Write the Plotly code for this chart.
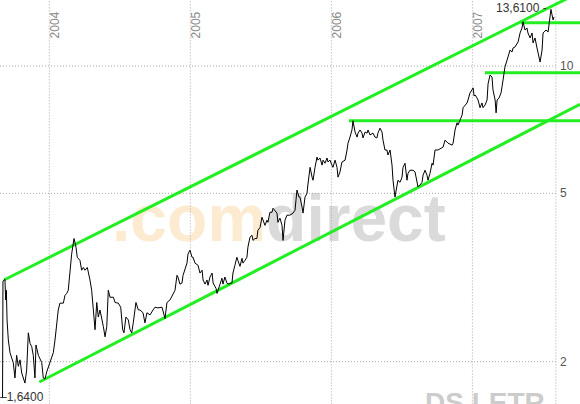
import numpy as np
import plotly.graph_objects as go

# ---------------- data (decimal years, price) ----------------
t = [
    2003.668, 2003.671, 2003.685, 2003.690, 2003.695, 2003.700, 2003.709, 2003.721, 2003.744, 2003.756,
    2003.768, 2003.780, 2003.792, 2003.804, 2003.827, 2003.839, 2003.851, 2003.863, 2003.875, 2003.886,
    2003.898, 2003.905, 2003.922, 2003.934, 2003.946, 2003.957, 2003.969, 2003.981, 2004.005, 2004.028,
    2004.040, 2004.063, 2004.075, 2004.099, 2004.111, 2004.123, 2004.134, 2004.146, 2004.158, 2004.175,
    2004.189, 2004.198, 2004.217, 2004.229, 2004.241, 2004.253, 2004.269, 2004.288, 2004.300, 2004.312,
    2004.324, 2004.336, 2004.347, 2004.359, 2004.371, 2004.383, 2004.395, 2004.407, 2004.418, 2004.430,
    2004.454, 2004.466, 2004.489, 2004.506, 2004.520, 2004.529, 2004.543, 2004.560, 2004.572, 2004.584,
    2004.595, 2004.614, 2004.631, 2004.643, 2004.664, 2004.678, 2004.692, 2004.714, 2004.735, 2004.749,
    2004.770, 2004.799, 2004.820, 2004.834, 2004.856, 2004.877, 2004.891, 2004.905, 2004.912, 2004.926,
    2004.941, 2004.948, 2004.976, 2004.983, 2004.997, 2005.012, 2005.019, 2005.033, 2005.054, 2005.068,
    2005.083, 2005.090, 2005.104, 2005.118, 2005.125, 2005.139, 2005.154, 2005.161, 2005.182, 2005.189,
    2005.210, 2005.224, 2005.231, 2005.245, 2005.259, 2005.267, 2005.295, 2005.302, 2005.316, 2005.330,
    2005.337, 2005.352, 2005.366, 2005.373, 2005.387, 2005.401, 2005.408, 2005.423, 2005.437, 2005.444,
    2005.458, 2005.472, 2005.479, 2005.494, 2005.508, 2005.515, 2005.529, 2005.543, 2005.550, 2005.564,
    2005.579, 2005.586, 2005.600, 2005.614, 2005.621, 2005.635, 2005.650, 2005.657, 2005.671, 2005.685,
    2005.706, 2005.728, 2005.742, 2005.749, 2005.756, 2005.770, 2005.777, 2005.792, 2005.799, 2005.813,
    2005.827, 2005.834, 2005.849, 2005.863, 2005.870, 2005.884, 2005.898, 2005.905, 2005.919, 2005.934,
    2005.941, 2005.955, 2005.969, 2005.976, 2005.990, 2006.004, 2006.011, 2006.026, 2006.040, 2006.047,
    2006.061, 2006.075, 2006.097, 2006.111, 2006.118, 2006.132, 2006.146, 2006.153, 2006.168, 2006.182,
    2006.189, 2006.203, 2006.217, 2006.224, 2006.239, 2006.253, 2006.260, 2006.274, 2006.288, 2006.295,
    2006.309, 2006.323, 2006.330, 2006.345, 2006.359, 2006.366, 2006.380, 2006.394, 2006.401, 2006.416,
    2006.430, 2006.437, 2006.451, 2006.465, 2006.472, 2006.487, 2006.501, 2006.508, 2006.522, 2006.536,
    2006.543, 2006.557, 2006.572, 2006.579, 2006.593, 2006.607, 2006.614, 2006.628, 2006.643, 2006.650,
    2006.664, 2006.678, 2006.685, 2006.699, 2006.714, 2006.721, 2006.735, 2006.756, 2006.785, 2006.792,
    2006.806, 2006.827, 2006.856, 2006.863, 2006.877, 2006.891, 2006.898, 2006.912, 2006.927, 2006.934,
    2006.948, 2006.962, 2006.969, 2006.983, 2006.997, 2007.005, 2007.012, 2007.019, 2007.033, 2007.040,
    2007.054, 2007.068, 2007.075, 2007.090, 2007.104, 2007.111, 2007.125, 2007.139, 2007.146, 2007.161,
    2007.168, 2007.175, 2007.189, 2007.203, 2007.210, 2007.217, 2007.231, 2007.246, 2007.253, 2007.267,
    2007.281, 2007.288, 2007.302, 2007.317, 2007.324, 2007.338, 2007.352, 2007.359, 2007.373, 2007.387,
    2007.394, 2007.409, 2007.423, 2007.430, 2007.444, 2007.458, 2007.465, 2007.480, 2007.494, 2007.501,
    2007.508, 2007.522, 2007.537, 2007.544, 2007.550, 2007.557, 2007.572, 2007.579,
]
price = [
    1.64, 3.10, 3.13, 2.80, 2.95, 2.51, 2.25, 2.10, 1.99, 1.83,
    2.07, 1.95, 2.02, 1.88, 1.78, 1.91, 2.34, 2.21, 2.17, 2.07,
    1.83, 2.19, 2.07, 2.02, 1.99, 1.83, 1.82, 1.89, 1.99, 2.10,
    2.25, 2.65, 2.75, 2.75, 2.87, 2.90, 2.95, 3.29, 3.59, 3.91,
    3.73, 3.53, 3.47, 3.29, 3.34, 3.29, 3.34, 3.12, 2.95, 2.65,
    2.38, 2.76, 2.55, 2.65, 2.55, 2.42, 2.29, 2.42, 2.95, 2.84,
    2.84, 2.76, 2.75, 2.69, 2.38, 2.34, 2.55, 2.51, 2.38, 2.34,
    2.47, 2.76, 2.65, 2.65, 2.61, 2.47, 2.61, 2.58, 2.65, 2.69,
    2.68, 2.69, 2.53, 2.76, 2.80, 2.90, 2.95, 3.20, 3.17, 3.05,
    3.07, 3.20, 3.42, 3.59, 3.67, 3.53, 3.53, 3.42, 3.38, 3.24,
    3.29, 3.12, 3.05, 3.12, 3.03, 3.17, 3.24, 3.07, 2.98, 2.90,
    3.05, 3.15, 3.05, 3.17, 3.07, 3.05, 3.07, 3.24, 3.38, 3.53,
    3.47, 3.36, 3.51, 3.42, 3.47, 3.53, 3.73, 3.94, 3.98, 3.87,
    3.91, 3.91, 4.09, 4.15, 4.39, 4.32, 4.20, 4.32, 4.27, 4.51,
    4.51, 4.61, 4.56, 4.49, 4.27, 4.37, 4.20, 3.87, 4.32, 4.44,
    4.44, 4.49, 4.56, 4.90, 5.09, 4.90, 4.90, 4.64, 4.49, 4.90,
    5.00, 5.26, 5.76, 5.46, 5.37, 5.76, 6.09, 5.99, 6.06, 5.83,
    5.99, 5.89, 6.06, 5.93, 5.99, 5.83, 5.76, 5.99, 5.76, 5.46,
    5.62, 5.93, 5.99, 6.33, 6.57, 6.79, 7.06, 7.42, 6.98, 6.79,
    6.94, 7.06, 6.94, 6.76, 6.98, 6.94, 7.06, 6.87, 6.94, 6.94,
    6.79, 6.76, 6.94, 7.13, 6.98, 6.68, 6.33, 6.33, 6.16, 6.33,
    5.83, 5.37, 4.90, 5.23, 5.37, 5.31, 5.46, 5.76, 5.89, 5.37,
    5.57, 5.67, 5.67, 5.67, 5.62, 5.29, 5.18, 5.23, 5.31, 5.52,
    5.67, 5.52, 5.37, 5.57, 5.89, 5.83, 6.33, 6.33, 6.40, 6.43,
    6.68, 6.57, 6.50, 6.57, 7.06, 7.34, 7.25, 7.45, 7.66, 7.97,
    8.09, 8.18, 8.31, 8.64, 8.78, 8.88, 8.49, 8.54, 8.40, 8.31,
    7.97, 8.18, 7.97, 8.09, 8.31, 9.07, 9.52, 9.42, 8.78, 8.31,
    7.75, 8.31, 8.40, 8.64, 8.93, 9.37, 9.95, 10.33, 10.50, 10.91,
    10.79, 11.03, 11.09, 11.34, 11.40, 11.97, 12.30, 12.72, 12.16, 12.30,
    11.97, 11.65, 11.97, 11.34, 11.65, 11.03, 10.74, 10.22, 10.91, 11.97,
    12.04, 12.16, 12.04, 12.72, 13.06, 13.61, 12.85, 13.06,
]

# trend channel (start/end points: decimal year, price)
upper_t = [2003.678, 2007.763]
upper_v = [3.12, 14.95]
lower_t = [2003.929, 2007.763]
lower_v = [1.79, 8.12]

# horizontal resistance / support levels
level_start = [2007.344, 2007.089, 2006.124]
level_value = [12.66, 9.64, 7.42]
level_end = 2007.763

# axes
x_min, x_max = 2003.650, 2007.763
log_min, log_max = 0.20095, 1.15603
x_end = 2007.592                      # last data gridline
year_ticks = [2004, 2005, 2006, 2007]
year_labels = ["2004", "2005", "2006", "2007"]
y_ticks = [2, 5, 10]
y_labels = ["2", "5", "10"]
max_label = "13,6100"
min_label = "1,6400"

GREEN = "#22ee22"
GRID = "#a8a8a8"

fig = go.Figure()

# watermark (drawn first so everything sits on top)
fig.add_trace(go.Scatter(
    x=[2005.628], y=[4.21], mode="text",
    text=["<b><span style='color:#fcebd0'>.com</span><span style='color:#dadada'>direct</span></b>"],
    textfont=dict(family="Liberation Sans, Arial, sans-serif", size=66, color="#dadada"),
    textposition="middle center", hoverinfo="skip", showlegend=False,
))

# gridlines
y_lo, y_hi = 10 ** log_min * 0.95, 10 ** log_max * 1.05
for yr in year_ticks + [x_end]:
    fig.add_trace(go.Scatter(x=[yr, yr], y=[y_lo, y_hi], mode="lines",
                             line=dict(color=GRID, width=1, dash="1px,2px"),
                             hoverinfo="skip", showlegend=False))
for yv in y_ticks:
    fig.add_trace(go.Scatter(x=[x_min, x_end], y=[yv, yv], mode="lines",
                             line=dict(color=GRID, width=1, dash="1px,2px"),
                             hoverinfo="skip", showlegend=False))

# green channel and levels
for xs, ys in [(upper_t, upper_v), (lower_t, lower_v)]:
    fig.add_trace(go.Scatter(x=xs, y=ys, mode="lines",
                             line=dict(color=GREEN, width=3),
                             hoverinfo="skip", showlegend=False))
for xs0, lv in zip(level_start, level_value):
    fig.add_trace(go.Scatter(x=[xs0, level_end], y=[lv, lv], mode="lines",
                             line=dict(color=GREEN, width=3),
                             hoverinfo="skip", showlegend=False))

# price line
fig.add_trace(go.Scatter(x=t, y=price, mode="lines",
                         line=dict(color="black", width=1),
                         showlegend=False))

ann = []
for yr, lab in zip(year_ticks, year_labels):
    ann.append(dict(x=yr, y=0.938, xref="x", yref="paper", text=lab, textangle=-90,
                    showarrow=False, xanchor="center", yanchor="middle", xshift=6,
                    font=dict(family="Liberation Sans, Arial", size=12, color="#8a8a8a")))
for yv, lab in zip(y_ticks, y_labels):
    ann.append(dict(x=x_end, y=np.log10(yv), xref="x", yref="y", text=lab,
                    showarrow=False, xanchor="left", yanchor="middle", xshift=2,
                    font=dict(family="Liberation Sans, Arial", size=12, color="#555555")))
ann.append(dict(x=t[int(np.argmax(price))], y=1 - 8 / 404, xref="x", yref="paper",
                text=max_label + " -", showarrow=False, xanchor="right", yanchor="middle",
                xshift=-2,
                font=dict(family="Liberation Sans, Arial", size=12, color="#333333")))
ann.append(dict(x=0.0, y=1 - 397 / 404, xref="paper", yref="paper",
                text="–" + min_label, showarrow=False, xanchor="left", yanchor="middle",
                xshift=-2,
                font=dict(family="Liberation Sans, Arial", size=12, color="#333333")))
ann.append(dict(x=485 / 580, y=(404 - 385) / 404, xref="paper", yref="paper",
                text="<b>DS LETR</b>", showarrow=False, xanchor="center", yanchor="top",
                font=dict(family="Liberation Sans, Arial", size=28, color="#cccccc")))

fig.update_layout(
    width=580, height=404,
    margin=dict(l=0, r=0, t=0, b=0),
    paper_bgcolor="white", plot_bgcolor="white",
    xaxis=dict(range=[x_min, x_max], visible=False, fixedrange=True),
    yaxis=dict(type="log", range=[log_min, log_max], visible=False, fixedrange=True),
    annotations=ann,
    showlegend=False,
)

fig.write_html(
    "out.html",
    config={"displayModeBar": False},
    post_script="document.body.style.margin='0';document.body.style.overflow='hidden';",
)
